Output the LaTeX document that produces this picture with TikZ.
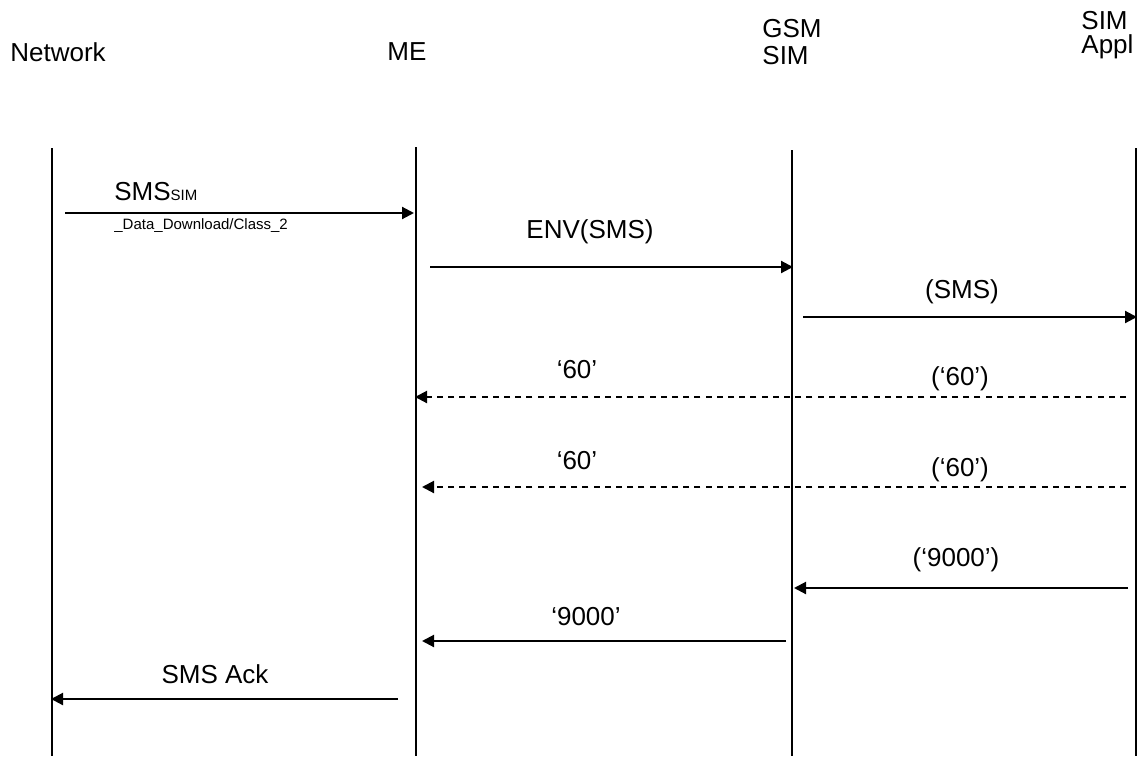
\documentclass[tikz,border=0pt]{standalone}
\usepackage{fontspec}
\setmainfont{Liberation Sans}
\usetikzlibrary{arrows.meta}
\begin{document}
\begin{tikzpicture}[x=0.5pt,y=-0.5pt,
  life/.style={line width=1.2pt},
  msg/.style={line width=1.05pt,-{Triangle[length=6pt,width=6pt]}},
  reply/.style={msg,dash pattern=on 3pt off 2.6pt},
  lbl/.style={font=\fontsize{13}{13.5}\selectfont,inner sep=0pt},
  hdr/.style={font=\fontsize{13}{13.5}\selectfont,inner sep=0pt,align=left},
  tiny/.style={font=\fontsize{7.5}{9}\selectfont,inner sep=0pt}]
\useasboundingbox (0,0) rectangle (1140,756);
% headers
\node[hdr,anchor=west] (hnet) at (10,52) {Network};
\node[hdr,anchor=west] (hme) at (387,52) {ME};
\node[hdr,anchor=west] (hgsm) at (762,42) {GSM\\SIM};
\node[hdr,anchor=west,font=\fontsize{13}{12}\selectfont] (happ) at (1081,35) {SIM\\Appl};
% lifelines
\coordinate (net-t) at (52,148);  \coordinate (net-b) at (52,756);
\coordinate (me-t) at (416,147);  \coordinate (me-b) at (416,756);
\coordinate (gsm-t) at (792,150); \coordinate (gsm-b) at (792,756);
\coordinate (app-t) at (1136,148);\coordinate (app-b) at (1136,756);
\draw[life] (net-t) -- (net-b);
\draw[life] (me-t) -- (me-b);
\draw[life] (gsm-t) -- (gsm-b);
\draw[life] (app-t) -- (app-b);
% endpoints
\coordinate (m1a) at (65,213);   \coordinate (m1b) at (414,213);
\coordinate (m2a) at (430,267);  \coordinate (m2b) at (793,267);
\coordinate (m3a) at (803,317);  \coordinate (m3b) at (1137,317);
\coordinate (m4a) at (1126,397); \coordinate (m4b) at (415,397);
\coordinate (m5a) at (1126,487); \coordinate (m5b) at (422,487);
\coordinate (m6a) at (1128,588); \coordinate (m6b) at (794,588);
\coordinate (m7a) at (786,641);  \coordinate (m7b) at (422,641);
\coordinate (m8a) at (398,699);  \coordinate (m8b) at (51,699);
% messages
\draw[msg] (m1a) -- (m1b);
\draw[msg] (m2a) -- (m2b);
\draw[msg] (m3a) -- (m3b);
\draw[reply] (m4a) -- (m4b);
\draw[reply] (m5a) -- (m5b);
\draw[msg] (m6a) -- (m6b);
\draw[msg] (m7a) -- (m7b);
\draw[msg] (m8a) -- (m8b);
% labels
\node[lbl,anchor=base west] (l1) at (114,200) {SMS\raisebox{-0.3pt}{\fontsize{7.5}{9}\selectfont SIM}};
\node[tiny,anchor=base west] (l1b) at (114,229) {\_Data\_Download/Class\_2};
\node[lbl,anchor=base] (l2) at (590,238) {ENV(SMS)};
\node[lbl,anchor=base] (l3) at (962,298) {(SMS)};
\node[lbl,anchor=base] (l4) at (577,378) {‘60’};
\node[lbl,anchor=base] (l5) at (960,385) {(‘60’)};
\node[lbl,anchor=base] (l6) at (577,469) {‘60’};
\node[lbl,anchor=base] (l7) at (960,476) {(‘60’)};
\node[lbl,anchor=base] (l8) at (956,566) {(‘9000’)};
\node[lbl,anchor=base] (l9) at (586,625) {‘9000’};
\node[lbl,anchor=base] (l10) at (215,683) {SMS Ack};
\end{tikzpicture}
\end{document}
